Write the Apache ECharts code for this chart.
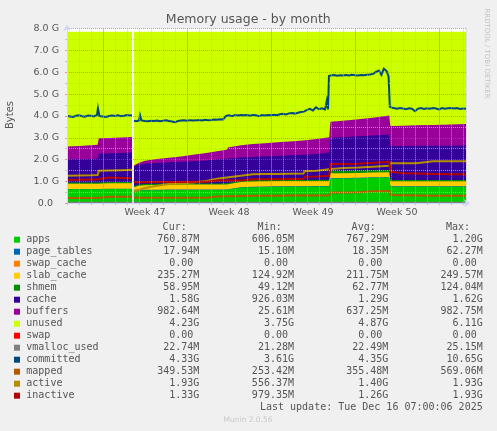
<!DOCTYPE html>
<html><head><meta charset="utf-8">
<script src="https://cdn.jsdelivr.net/npm/echarts@6/dist/echarts.min.js"></script>
<style>html,body{margin:0;padding:0;background:#F0F0F0;}#c{width:497px;height:431px;}</style>
</head><body><div id="c"></div><script>
// ---- time axis (days; 0 = start of Week 47) ----
const T = [-3.0,-2.0,-1.0,-0.45,-0.35,0.5,1.5,2.42,2.5,2.58,3.0,3.5,4.5,5.5,6.5,7.5,8.6,8.7,9.5,10.3,10.4,11.5,12.5,13.5,14.5,15.5,16.7,16.8,17.8,18.85,18.95,20.0,21.3,21.4,22.5,23.85,23.95,25.0,26.1,26.2,27.5,29.0,30.25];
const weekStarts = [0,7,14,21,28];
const weekMids = [3.5,10.5,17.5,24.5];
const weekLabels = ['Week 47','Week 48','Week 49','Week 50'];
const yTickLabels = ['0.0  ','1.0 G','2.0 G','3.0 G','4.0 G','5.0 G','6.0 G','7.0 G','8.0 G'];

// ---- stacked areas (GB) ----
const apps = [0.64,0.64,0.64,0.64,0.65,0.65,0.65,0.65,null,0.60,0.60,0.60,0.60,0.61,0.61,0.61,0.61,0.61,0.61,0.62,0.70,0.72,0.74,0.75,0.76,0.76,0.76,0.76,0.77,0.77,1.14,1.14,1.15,1.16,1.17,1.18,0.76,0.76,0.76,0.76,0.76,0.76,0.76];
const pageTables = [0.017,0.017,0.017,0.017,0.017,0.017,0.017,0.017,null,0.017,0.017,0.017,0.017,0.017,0.017,0.017,0.017,0.017,0.017,0.017,0.017,0.017,0.017,0.017,0.017,0.017,0.017,0.017,0.017,0.017,0.018,0.018,0.018,0.018,0.018,0.018,0.018,0.018,0.018,0.018,0.018,0.018,0.018];
const swapCache = [0,0,0,0,0,0,0,0,null,0,0,0,0,0,0,0,0,0,0,0,0,0,0,0,0,0,0,0,0,0,0,0,0,0,0,0,0,0,0,0,0,0,0];
const slabCache = [0.24,0.24,0.24,0.24,0.25,0.25,0.25,0.25,null,0.12,0.19,0.21,0.22,0.22,0.23,0.23,0.23,0.23,0.23,0.23,0.23,0.24,0.24,0.24,0.24,0.24,0.24,0.24,0.24,0.24,0.22,0.22,0.22,0.22,0.22,0.22,0.235,0.235,0.235,0.235,0.235,0.235,0.235];
const shmem = [0.06,0.06,0.06,0.06,0.06,0.06,0.06,0.06,null,0.05,0.055,0.055,0.055,0.055,0.055,0.055,0.055,0.055,0.055,0.055,0.055,0.055,0.055,0.055,0.055,0.055,0.055,0.055,0.055,0.055,0.11,0.11,0.11,0.11,0.11,0.11,0.059,0.059,0.059,0.059,0.059,0.059,0.059];
const cache = [1.06,1.06,1.07,1.08,1.31,1.32,1.33,1.35,null,0.91,0.92,0.93,0.96,0.98,0.99,1.02,1.05,1.05,1.09,1.12,1.06,1.07,1.07,1.09,1.10,1.13,1.15,1.16,1.18,1.24,1.51,1.54,1.57,1.57,1.59,1.62,1.55,1.55,1.56,1.56,1.57,1.57,1.58];
const buffers = [0.58,0.61,0.63,0.65,0.69,0.70,0.71,0.71,null,0.03,0.08,0.14,0.18,0.20,0.24,0.29,0.34,0.35,0.38,0.41,0.49,0.56,0.59,0.60,0.62,0.63,0.66,0.66,0.68,0.70,0.74,0.76,0.78,0.78,0.81,0.87,0.92,0.93,0.94,0.94,0.95,0.97,0.98];
const unused = [5.26,5.23,5.20,5.17,4.88,4.86,4.84,4.82,null,6.13,6.00,5.91,5.83,5.78,5.72,5.64,5.56,5.55,5.48,5.41,5.31,5.20,5.15,5.11,5.07,5.03,4.98,4.97,4.92,4.84,4.12,4.07,4.01,4.00,3.94,3.84,4.32,4.31,4.29,4.29,4.27,4.25,4.23];
const swap = [0,0,0,0,0,0,0,0,null,0,0,0,0,0,0,0,0,0,0,0,0,0,0,0,0,0,0,0,0,0,0,0,0,0,0,0,0,0,0,0,0,0,0];

// ---- lines (GB) ----
const vmallocUsed = [0.022,0.022,0.022,0.022,0.022,0.022,0.022,0.022,null,0.022,0.022,0.022,0.022,0.022,0.022,0.022,0.022,0.022,0.022,0.022,0.022,0.022,0.022,0.022,0.022,0.022,0.022,0.022,0.022,0.022,0.022,0.022,0.022,0.022,0.022,0.022,0.022,0.022,0.022,0.022,0.022,0.022,0.022];
const mapped = [0.24,0.24,0.24,0.24,0.30,0.30,0.30,0.30,null,0.25,0.25,0.25,0.25,0.25,0.25,0.25,0.25,0.31,0.31,0.32,0.33,0.34,0.35,0.35,0.35,0.36,0.36,0.36,0.36,0.37,0.50,0.50,0.51,0.55,0.55,0.56,0.38,0.37,0.36,0.35,0.35,0.35,0.35];
const active = [1.26,1.27,1.28,1.30,1.49,1.50,1.52,1.54,null,0.54,0.62,0.70,0.80,0.88,0.92,0.95,1.02,1.04,1.12,1.18,1.20,1.26,1.33,1.34,1.34,1.35,1.36,1.47,1.49,1.56,1.60,1.62,1.64,1.65,1.68,1.72,1.83,1.83,1.84,1.92,1.93,1.93,1.93];
const inactive = [1.07,1.08,1.09,1.10,1.19,1.18,1.16,1.15,null,0.97,0.97,0.97,0.98,0.98,0.98,0.99,0.99,1.05,1.05,1.05,1.05,1.05,1.10,1.10,1.10,1.11,1.11,1.22,1.23,1.26,1.80,1.80,1.81,1.84,1.86,1.90,1.45,1.38,1.36,1.35,1.34,1.33,1.33];

// committed has finer detail
const commitT = [-3,-2.75,-2.5,-2.25,-2,-1.75,-1.5,-1.25,-1,-0.75,-0.5,-0.42,-0.3,0,0.25,0.5,0.75,1,1.25,1.5,1.75,2,2.25,2.42,2.5,
 2.58,2.75,3,3.08,3.2,3.5,3.75,4,4.25,4.5,4.75,5,5.25,5.5,5.75,6,6.25,6.5,6.75,7,7.25,7.5,7.75,8,8.25,8.5,8.75,9,9.25,9.5,9.75,10,
 10.25,10.5,10.75,11,11.25,11.5,11.75,12,12.25,12.5,12.75,13,13.25,13.5,13.75,14,14.25,14.5,14.75,15,15.25,15.5,15.75,16,16.25,16.5,16.75,
 17,17.25,17.5,17.75,18,18.25,18.5,18.65,18.75,18.83,19,19.25,19.5,19.75,20,20.25,20.5,20.75,21,21.25,21.5,21.75,22,22.25,22.5,22.75,
 23,23.2,23.4,23.5,23.65,23.8,23.9,24.1,24.25,24.5,24.75,25,25.25,25.5,25.75,26,26.25,26.5,26.75,27,27.25,27.5,27.75,28,28.25,28.5,28.75,
 29,29.25,29.5,29.75,30,30.25];
const commitV = [4.00,3.98,3.96,4.01,4.03,3.99,3.97,4.02,4.01,3.98,4.05,4.36,4.00,3.98,3.96,4.00,4.02,4.00,4.03,3.99,4.01,4.04,4.02,4.03,null,
 3.78,3.76,3.79,4.05,3.80,3.77,3.76,3.78,3.77,3.79,3.76,3.78,3.80,3.77,3.75,3.72,3.77,3.79,3.80,3.78,3.81,3.79,3.80,3.82,3.80,3.83,3.81,3.82,3.84,3.83,3.85,3.84,
 4.00,4.03,3.99,4.04,4.02,4.05,4.03,4.04,4.01,4.05,4.03,3.99,4.04,4.02,4.05,4.03,4.06,4.04,4.08,4.10,4.07,4.12,4.14,4.11,4.15,4.18,4.20,
 4.28,4.33,4.25,4.40,4.31,4.35,4.30,4.70,4.30,5.83,5.86,5.88,5.85,5.87,5.86,5.88,5.86,5.89,5.87,5.86,5.88,5.87,5.89,5.90,5.93,6.02,
 6.08,5.88,6.17,6.26,6.05,5.80,4.42,4.38,4.36,4.33,4.37,4.34,4.31,4.35,4.33,4.22,4.34,4.36,4.32,4.35,4.33,4.37,4.34,4.30,4.36,4.33,4.35,
 4.37,4.34,4.36,4.32,4.34,4.33];

// ---- legend table ----
const legendNames = ['apps','page_tables','swap_cache','slab_cache','shmem','cache','buffers','unused','swap','vmalloc_used','committed','mapped','active','inactive'];
const legendColors = ['#00CC00','#0066B3','#FF8000','#FFCC00','#008F00','#330099','#990099','#CCFF00','#FF0000','#808080','#00487D','#B35A00','#B38F00','#B30000'];
const curVals = ['760.87M','17.94M','0.00','235.27M','58.95M','1.58G','982.64M','4.23G','0.00','22.74M','4.33G','349.53M','1.93G','1.33G'];
const minVals = ['606.05M','15.10M','0.00','124.92M','49.12M','926.03M','25.61M','3.75G','0.00','21.28M','3.61G','253.42M','556.37M','979.35M'];
const avgVals = ['767.29M','18.35M','0.00','211.75M','62.77M','1.29G','637.25M','4.87G','0.00','22.49M','4.35G','355.48M','1.40G','1.26G'];
const maxVals = ['1.20G','62.27M','0.00','249.57M','124.04M','1.62G','982.75M','6.11G','0.00','25.15M','10.65G','569.06M','1.93G','1.93G'];
const headers = ['Cur:','Min:','Avg:','Max:'];
const lastUpdate = 'Last update: Tue Dec 16 07:00:06 2025';

const stackData = [apps,pageTables,swapCache,slabCache,shmem,cache,buffers,unused,swap];
const lineData = [vmallocUsed,null,mapped,active,inactive];

const chart = echarts.init(document.getElementById('c'), null, {renderer:'canvas'});

// running totals of the stack (null stays null = gap)
const cum = [];
stackData.forEach((arr,k)=>{
  cum.push(arr.map((v,i)=> (v==null) ? null : (k===0 ? v : cum[k-1][i] + v)));
});
const series = [];
// draw from top layer down so lower layers paint over upper ones
for (let k=stackData.length-1;k>=0;k--){
  const nonZero = stackData[k].some(v=>v);
  if (!nonZero) continue; // zero-height band: nothing to draw
  series.push({
    name: legendNames[k], type:'line', xAxisIndex:0, yAxisIndex:0,
    data: T.map((t,i)=>[t, cum[k][i]]),
    symbol:'none', showSymbol:false, connectNulls:false, silent:true,
    lineStyle:{width:0, color:legendColors[k]},
    areaStyle:{color:legendColors[k], opacity:1, origin:'start'},
    itemStyle:{color:legendColors[k]}, z:2
  });
}
for (let j=0;j<5;j++){
  const k = 9+j;
  const data = (j===1) ? commitT.map((t,i)=>[t, commitV[i]]) : T.map((t,i)=>[t, lineData[j][i]]);
  series.push({
    name: legendNames[k], type:'line', xAxisIndex:0, yAxisIndex:0, data,
    symbol:'none', showSymbol:false, connectNulls:false, silent:true,
    lineStyle:{width:2, color:legendColors[k], join:'miter'},
    itemStyle:{color:legendColors[k]}, z:3
  });
}
// week grid lines (major x grid)
series.push({
  type:'line', xAxisIndex:0, yAxisIndex:0, data:[[-3,null]], symbol:'none', silent:true, z:6,
  markLine:{silent:true, symbol:['none','none'], symbolSize:0, animation:false, label:{show:false},
    lineStyle:{color:'rgba(222,79,79,0.6)', type:'dotted', width:1},
    emphasis:{disabled:true},
    data: weekStarts.map(w=>({xAxis:w}))}
});

const FONT = '"DejaVu Sans", sans-serif';
const MONO = '"DejaVu Sans Mono", monospace';
function txt(x,y,text,size,fam,color,align,rot){
  return {type:'text', x, y, rotation: rot||0, silent:true, z:10,
    style:{text, fill:color, font: size+'px '+fam, align, textAlign:align, verticalAlign:'middle', textVerticalAlign:'middle'}};
}
const g = [];
g.push(txt(248.3,19.5,'Memory usage - by month',12.5,FONT,'#555','center'));
g.push(txt(10.5,115,'Bytes',10,FONT,'#555','center',Math.PI/2));
g.push(txt(487,53.5,'RRDTOOL / TOBI OETIKER',7,FONT,'#c4c4c4','center',-Math.PI/2));
const hdrX = [186.7,281.7,375.7,470];
headers.forEach((h,i)=>g.push(txt(hdrX[i],227.3,h,10,MONO,'#555','right')));
const valX = [199.3,294,388.3,482.7];
const cols = [curVals,minVals,avgVals,maxVals];
legendNames.forEach((n,r)=>{
  const y = 239.7 + 12*r;
  g.push({type:'rect', silent:true, z:10, shape:{x:14,y:y-3,width:6,height:6}, style:{fill:legendColors[r]}});
  g.push(txt(26.3,y,n,10,MONO,'#555','left'));
  cols.forEach((col,c)=>{
    const v = col[r];
    const shift = /[0-9]$/.test(v) ? 6 : 0;
    g.push(txt(valX[c]-shift,y,v,10,MONO,'#555','right'));
  });
});
g.push(txt(482.7,407.7,lastUpdate,10,MONO,'#555','right'));
g.push(txt(248,420.3,'Munin 2.0.56',7.5,FONT,'#c8c8c8','center'));

const option = {
  backgroundColor:'#F0F0F0',
  animation:false,
  grid:{left:67, right:31, top:28.7, bottom:227.7, show:true, backgroundColor:'#FFFFFF', borderWidth:0, containLabel:false, outerBoundsMode:'none'},
  xAxis:[
    {type:'value', min:-3, max:30.25, interval:1, z:5,
     axisLine:{show:true, onZero:false, lineStyle:{color:'#CFD6F8', width:1}, symbol:['none','arrow'], symbolSize:[6,6], symbolOffset:[0,4]},
     axisTick:{show:true, length:2, lineStyle:{color:'rgba(191,191,191,0.9)'}},
     axisLabel:{show:false},
     splitLine:{show:true, lineStyle:{color:'rgba(191,191,191,0.75)', type:'dotted', width:1}}},
    {type:'value', min:-3, max:30.25, interval:0.5, position:'bottom', z:5,
     axisLine:{show:false}, axisTick:{show:false}, splitLine:{show:false},
     axisLabel:{show:true, margin:4, color:'#555', fontFamily:FONT, fontSize:9.5, showMinLabel:false, showMaxLabel:false,
       formatter:(v)=>{ const i = weekMids.findIndex(m=>Math.abs(m-v)<1e-6); return i>=0 ? weekLabels[i] : ''; }}}
  ],
  yAxis:{type:'value', min:0, max:8, interval:1, z:5,
    axisLine:{show:true, onZero:false, lineStyle:{color:'#CFD6F8', width:1}, symbol:['none','arrow'], symbolSize:[6,6], symbolOffset:[0,4]},
    axisTick:{show:true, length:2, lineStyle:{color:'rgba(222,79,79,0.6)'}},
    minorTick:{show:true, splitNumber:2, length:2, lineStyle:{color:'rgba(191,191,191,0.9)'}},
    axisLabel:{margin:8, color:'#555', fontFamily:FONT, fontSize:9.5, formatter:(v)=>yTickLabels[Math.round(v)]},
    splitLine:{show:true, lineStyle:{color:'rgba(222,79,79,0.6)', type:'dotted', width:1}},
    minorSplitLine:{show:true, lineStyle:{color:'rgba(191,191,191,0.75)', type:'dotted', width:1}}},
  series,
  graphic:{elements:g}
};
chart.setOption(option);
</script></body></html>
